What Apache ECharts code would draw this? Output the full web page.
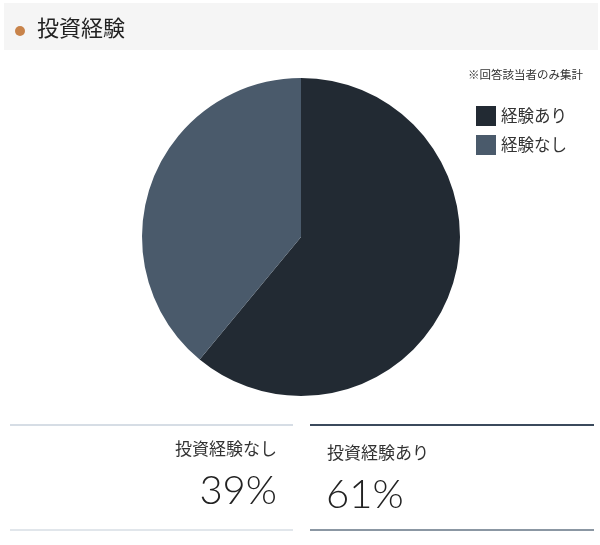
<!DOCTYPE html>
<html>
<head>
<meta charset="utf-8">
<script src="https://cdn.jsdelivr.net/npm/echarts@6/dist/echarts.min.js"></script>
<style>
  html, body { margin: 0; padding: 0; background: #fff; }
  #chart { width: 600px; height: 545px; }
</style>
</head>
<body>
<div id="chart"></div>
<script>
const categories = ['経験あり', '経験なし'];
const values = [61, 39];
const colors = ['#222a33', '#4a5a6b'];
const panelLabels = ['投資経験あり', '投資経験なし'];

const chart = echarts.init(document.getElementById('chart'));
const font = '"Noto Sans CJK JP", "Noto Sans", sans-serif';

const option = {
  backgroundColor: '#fff',
  animation: false,
  legend: {
    orient: 'vertical',
    left: 471,
    top: 101,
    itemWidth: 20,
    itemHeight: 20,
    itemGap: 9,
    icon: 'rect',
    data: categories,
    textStyle: { fontFamily: font, fontSize: 16.5, color: '#333' }
  },
  graphic: [
    { type: 'rect', shape: { x: 4, y: 3, width: 594, height: 47 }, style: { fill: '#f5f5f5' } },
    { type: 'circle', shape: { cx: 20, cy: 31, r: 5 }, style: { fill: '#c8834a' } },
    { type: 'text', x: 37, y: 28, style: { text: '投資経験', fontFamily: font, fontSize: 22, fill: '#222', verticalAlign: 'middle' } },
    { type: 'text', x: 583, y: 75, style: { text: '※回答該当者のみ集計', fontFamily: font, fontSize: 11.5, fill: '#333', align: 'right', verticalAlign: 'middle' } },
    // left panel (なし)
    { type: 'rect', shape: { x: 10, y: 424, width: 283, height: 2 }, style: { fill: '#d6dde5' } },
    { type: 'rect', shape: { x: 10, y: 529, width: 283, height: 2 }, style: { fill: '#e1e6eb' } },
    { type: 'text', x: 277, y: 449, style: { text: panelLabels[1], fontFamily: font, fontSize: 17, fill: '#333', align: 'right', verticalAlign: 'middle' } },
    { type: 'text', x: 277, y: 491, style: { text: values[1] + '%', fontFamily: 'Lato, sans-serif', fontWeight: 300, fontSize: 40, fill: '#222', align: 'right', verticalAlign: 'middle' } },
    // right panel (あり)
    { type: 'rect', shape: { x: 310, y: 424, width: 284, height: 2 }, style: { fill: '#3b4a5c' } },
    { type: 'rect', shape: { x: 310, y: 529, width: 284, height: 2 }, style: { fill: '#8b97a3' } },
    { type: 'text', x: 327, y: 453, style: { text: panelLabels[0], fontFamily: font, fontSize: 17, fill: '#333', align: 'left', verticalAlign: 'middle' } },
    { type: 'text', x: 326, y: 495, style: { text: values[0] + '%', fontFamily: 'Lato, sans-serif', fontWeight: 300, fontSize: 40, fill: '#222', align: 'left', verticalAlign: 'middle' } }
  ],
  series: [{
    type: 'pie',
    center: [301, 237],
    radius: 159,
    startAngle: 90,
    clockwise: true,
    label: { show: false },
    labelLine: { show: false },
    emphasis: { disabled: true },
    data: categories.map((c, i) => ({ name: c, value: values[i], itemStyle: { color: colors[i] } }))
  }]
};
chart.setOption(option);
</script>
</body>
</html>
